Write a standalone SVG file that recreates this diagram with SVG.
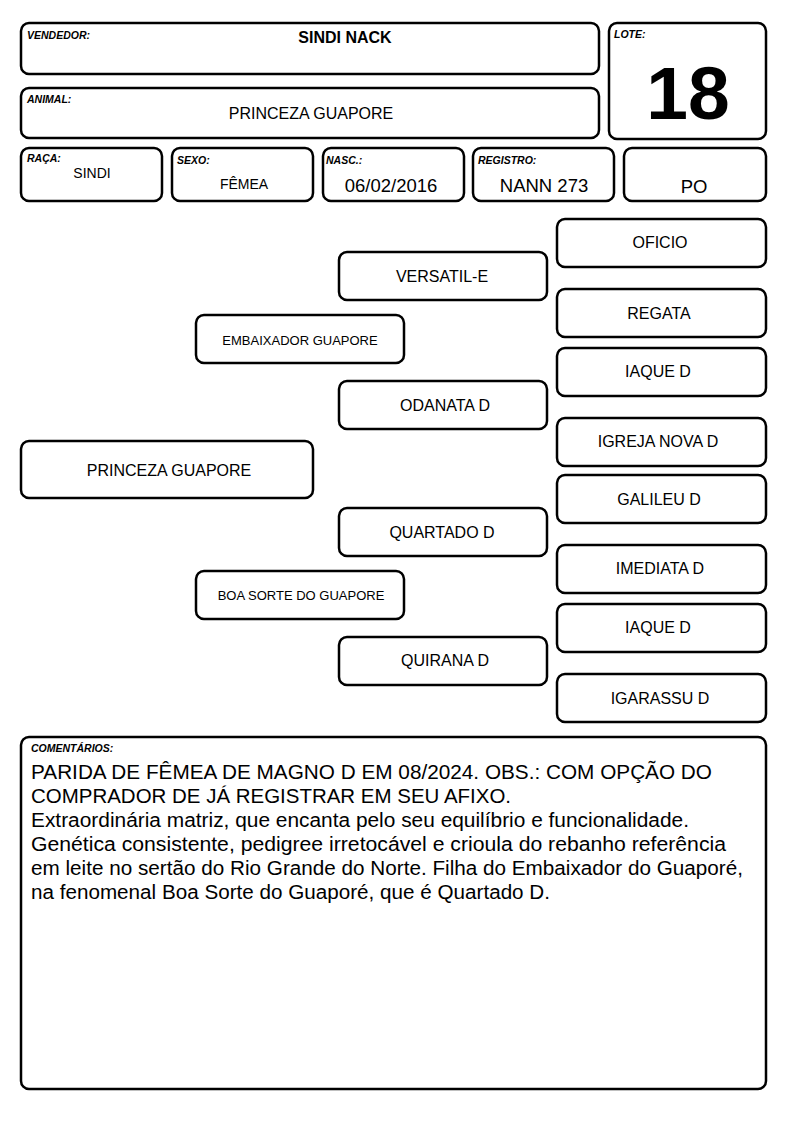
<svg xmlns="http://www.w3.org/2000/svg" width="794" height="1123" viewBox="0 0 794 1123">
<style>
.b{fill:#fff;stroke:#000;stroke-width:2.5}
text{font-family:"Liberation Sans",Arial,sans-serif;fill:#000}
.lbl{font-size:10.5px;font-weight:bold;font-style:italic}
.n{font-size:16px;text-anchor:middle}
.c{font-size:20px}
</style>
<rect width="794" height="1123" fill="#fff"/>
<g id="vendedor"><rect class="b" x="21" y="23" width="578" height="51" rx="8"/><text class="lbl" x="27" y="39">VENDEDOR:</text><text x="345" y="43" font-size="16" font-weight="bold" text-anchor="middle">SINDI NACK</text></g>
<g id="animal"><rect class="b" x="21" y="88" width="578" height="50" rx="8"/><text class="lbl" x="27" y="103">ANIMAL:</text><text x="311" y="119" font-size="16" text-anchor="middle">PRINCEZA GUAPORE</text></g>
<g id="lote"><rect class="b" x="609" y="23" width="157" height="116" rx="8"/><text class="lbl" x="614" y="38">LOTE:</text><text x="688" y="119" font-size="75" font-weight="bold" text-anchor="middle">18</text></g>
<g id="raca"><rect class="b" x="21" y="148" width="141" height="53" rx="8"/><text class="lbl" x="27" y="162">RAÇA:</text><text x="92" y="178" font-size="14" text-anchor="middle">SINDI</text></g>
<g id="sexo"><rect class="b" x="172" y="148" width="141" height="53" rx="8"/><text class="lbl" x="177" y="164">SEXO:</text><text x="244" y="189" font-size="14" text-anchor="middle">FÊMEA</text></g>
<g id="nasc"><rect class="b" x="323" y="148" width="141" height="53" rx="8"/><text class="lbl" x="326" y="164">NASC.:</text><text x="391" y="192" font-size="18.5" text-anchor="middle">06/02/2016</text></g>
<g id="registro"><rect class="b" x="473" y="148" width="141" height="53" rx="8"/><text class="lbl" x="478" y="164">REGISTRO:</text><text x="544" y="192" font-size="18.5" text-anchor="middle">NANN 273</text></g>
<g id="po"><rect class="b" x="624" y="148" width="142" height="53" rx="8"/><text x="694" y="192.5" font-size="18.5" text-anchor="middle">PO</text></g>
<g id="animal-node"><rect class="b" x="21" y="441" width="292" height="57" rx="8"/><text class="n" x="169" y="476">PRINCEZA GUAPORE</text></g>
<g id="pai"><rect class="b" x="196" y="315" width="208" height="48" rx="8"/><text x="300" y="345" font-size="13" text-anchor="middle">EMBAIXADOR GUAPORE</text></g>
<g id="mae"><rect class="b" x="196" y="571" width="208" height="48" rx="8"/><text x="301" y="600" font-size="13" text-anchor="middle">BOA SORTE DO GUAPORE</text></g>
<g id="avo1"><rect class="b" x="339" y="252" width="208" height="48" rx="8"/><text class="n" x="442" y="282">VERSATIL-E</text></g>
<g id="avo2"><rect class="b" x="339" y="381" width="208" height="48" rx="8"/><text class="n" x="445" y="411">ODANATA D</text></g>
<g id="avo3"><rect class="b" x="339" y="508" width="208" height="48" rx="8"/><text class="n" x="442" y="538">QUARTADO D</text></g>
<g id="avo4"><rect class="b" x="339" y="637" width="208" height="48" rx="8"/><text class="n" x="445" y="666">QUIRANA D</text></g>
<g id="b1"><rect class="b" x="557" y="219" width="209" height="48" rx="8"/><text class="n" x="660" y="248">OFICIO</text></g>
<g id="b2"><rect class="b" x="557" y="289" width="209" height="48" rx="8"/><text class="n" x="659" y="319">REGATA</text></g>
<g id="b3"><rect class="b" x="557" y="348" width="209" height="48" rx="8"/><text class="n" x="658" y="377">IAQUE D</text></g>
<g id="b4"><rect class="b" x="557" y="418" width="209" height="48" rx="8"/><text class="n" x="658" y="447">IGREJA NOVA D</text></g>
<g id="b5"><rect class="b" x="557" y="475" width="209" height="48" rx="8"/><text class="n" x="659" y="505">GALILEU D</text></g>
<g id="b6"><rect class="b" x="557" y="545" width="209" height="48" rx="8"/><text class="n" x="660" y="574">IMEDIATA D</text></g>
<g id="b7"><rect class="b" x="557" y="604" width="209" height="48" rx="8"/><text class="n" x="658" y="633">IAQUE D</text></g>
<g id="b8"><rect class="b" x="557" y="674" width="209" height="48" rx="8"/><text class="n" x="660" y="704">IGARASSU D</text></g>
<g id="comentarios"><rect class="b" x="21" y="737" width="745" height="352" rx="8"/><text class="lbl" x="31" y="752">COMENTÁRIOS:</text>
<text class="c" x="31" y="779" textLength="681" lengthAdjust="spacingAndGlyphs">PARIDA DE FÊMEA DE MAGNO D EM 08/2024. OBS.: COM OPÇÃO DO</text>
<text class="c" x="31" y="803" textLength="480" lengthAdjust="spacingAndGlyphs">COMPRADOR DE JÁ REGISTRAR EM SEU AFIXO.</text>
<text class="c" x="31" y="827" textLength="658" lengthAdjust="spacingAndGlyphs">Extraordinária matriz, que encanta pelo seu equilíbrio e funcionalidade.</text>
<text class="c" x="31" y="851" textLength="695" lengthAdjust="spacingAndGlyphs">Genética consistente, pedigree irretocável e crioula do rebanho referência</text>
<text class="c" x="31" y="875" textLength="712" lengthAdjust="spacingAndGlyphs">em leite no sertão do Rio Grande do Norte. Filha do Embaixador do Guaporé,</text>
<text class="c" x="31" y="899" textLength="519" lengthAdjust="spacingAndGlyphs">na fenomenal Boa Sorte do Guaporé, que é Quartado D.</text>
</g>
</svg>
